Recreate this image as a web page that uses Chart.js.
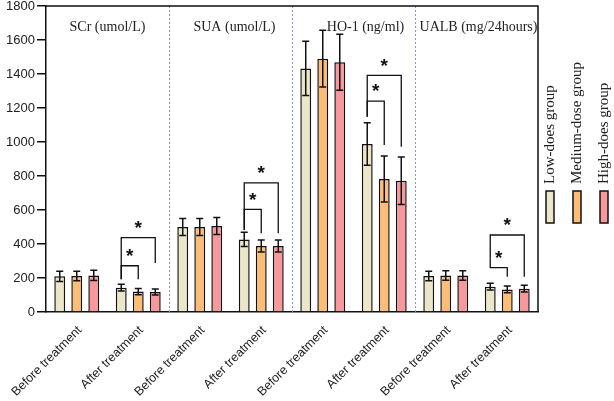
<!DOCTYPE html>
<html><head><meta charset="utf-8">
<script src="https://cdn.jsdelivr.net/npm/chart.js@4/dist/chart.umd.min.js"></script>
<style>html,body{margin:0;padding:0;background:#fff}#wrap{width:614px;height:401px}</style>
</head><body><div id="wrap"><canvas id="c" width="614" height="401"></canvas></div>
<script>
const categories = ['Before treatment','After treatment','Before treatment','After treatment','Before treatment','After treatment','Before treatment','After treatment'];
const sectionTitles = ['SCr (umol/L)','SUA (umol/L)','HO-1 (ng/ml)','UALB (mg/24hours)'];
const seriesNames = ['Low-does group','Medium-dose group','High-does group'];
const lowDose    = [210, 143, 500, 427, 1433, 988, 212, 149];
const mediumDose = [212, 120, 500, 388, 1490, 782, 215, 133];
const highDose   = [215, 118, 506, 388, 1469, 772, 215, 137];
const lowErr     = [30, 20, 50, 42, 160, 125, 28, 20];
const mediumErr  = [28, 18, 50, 35, 167, 135, 28, 20];
const highErr    = [30, 18, 50, 35, 165, 140, 28, 20];
const yTicks = [0, 200, 400, 600, 800, 1000, 1200, 1400, 1600, 1800];
// significance brackets: category, bar A, bar B, top value, leg A bottom value, leg B bottom value
const bracketCat   = [1, 1, 3, 3, 5, 5, 7, 7];
const bracketFrom  = [0, 0, 0, 0, 0, 0, 0, 0];
const bracketTo    = [1, 2, 1, 2, 1, 2, 1, 2];
const bracketTop   = [272, 437, 604, 760, 1241, 1392, 261, 453];
const bracketLegA  = [192, 192, 482, 482, 1149, 1149, 316, 316];
const bracketLegB  = [192, 288, 463, 463, 982, 972, 208, 208];

const colors = ['#ece6c8', '#fcbd76', '#f7989c'];
const values = [lowDose, mediumDose, highDose];
const errors = [lowErr, mediumErr, highErr];

const decor = {
  id: 'decor',
  beforeDatasetsDraw(chart) {
    const {ctx, chartArea: a, scales: {x}} = chart;
    ctx.save();
    ctx.strokeStyle = '#8a8cf2';
    ctx.lineWidth = 1;
    ctx.setLineDash([2, 2]);
    for (let k = 1; k < categories.length - 1; k += 2) {
      const px = Math.round((x.getPixelForValue(k) + x.getPixelForValue(k + 1)) / 2) + 0.5;
      ctx.beginPath(); ctx.moveTo(px, a.top); ctx.lineTo(px, a.bottom); ctx.stroke();
    }
    ctx.restore();
  },
  afterDatasetsDraw(chart) {
    const {ctx, chartArea: a, scales: {x, y}} = chart;
    ctx.save();
    // error bars
    ctx.strokeStyle = '#111';
    ctx.lineWidth = 1.5;
    for (let i = 0; i < 3; i++) {
      const meta = chart.getDatasetMeta(i);
      meta.data.forEach((el, j) => {
        const v = values[i][j], e = errors[i][j];
        const yt = y.getPixelForValue(v + e), yb = y.getPixelForValue(v - e);
        ctx.beginPath();
        ctx.moveTo(el.x, yt); ctx.lineTo(el.x, yb);
        ctx.moveTo(el.x - 3.5, yt); ctx.lineTo(el.x + 3.5, yt);
        ctx.moveTo(el.x - 3.5, yb); ctx.lineTo(el.x + 3.5, yb);
        ctx.stroke();
      });
    }
    // brackets
    ctx.lineWidth = 1.3;
    ctx.fillStyle = '#111';
    ctx.font = 'bold 19px "Liberation Sans"';
    ctx.textAlign = 'center';
    ctx.textBaseline = 'middle';
    for (let b = 0; b < bracketCat.length; b++) {
      const c = bracketCat[b];
      const xa = chart.getDatasetMeta(bracketFrom[b]).data[c].x;
      const xb = chart.getDatasetMeta(bracketTo[b]).data[c].x;
      const yt = y.getPixelForValue(bracketTop[b]);
      ctx.beginPath();
      ctx.moveTo(xa, y.getPixelForValue(bracketLegA[b]));
      ctx.lineTo(xa, yt); ctx.lineTo(xb, yt);
      ctx.lineTo(xb, y.getPixelForValue(bracketLegB[b]));
      ctx.stroke();
      ctx.fillText('*', (xa + xb) / 2, yt - 9);
    }
    // frame top/right
    ctx.lineWidth = 1.5;
    ctx.strokeStyle = '#111';
    ctx.beginPath();
    ctx.moveTo(a.left, a.top); ctx.lineTo(a.right, a.top); ctx.lineTo(a.right, a.bottom);
    ctx.stroke();
    // section titles
    ctx.font = '14px "Liberation Serif"';
    ctx.fillStyle = '#222';
    ctx.textBaseline = 'middle';
    const titleShift = [0, 4, 12, 2];
    for (let s = 0; s < sectionTitles.length; s++) {
      const x0 = s === 0 ? a.left : (x.getPixelForValue(2 * s - 1) + x.getPixelForValue(2 * s)) / 2;
      const x1 = s === sectionTitles.length - 1 ? a.right : (x.getPixelForValue(2 * s + 1) + x.getPixelForValue(2 * s + 2)) / 2;
      ctx.fillText(sectionTitles[s], (x0 + x1) / 2 + titleShift[s], a.top + 21);
    }
    // legend (rotated)
    for (let i = 0; i < 3; i++) {
      const cx = a.right + 12 + i * 27;
      ctx.fillStyle = colors[i];
      ctx.strokeStyle = '#111';
      ctx.lineWidth = 1.5;
      ctx.fillRect(cx - 4, a.bottom - 121, 8, 32);
      ctx.strokeRect(cx - 4, a.bottom - 121, 8, 32);
      ctx.save();
      ctx.translate(cx, a.bottom - 128);
      ctx.rotate(-Math.PI / 2);
      ctx.fillStyle = '#222';
      ctx.font = '15px "Liberation Serif"';
      ctx.textAlign = 'left';
      ctx.textBaseline = 'middle';
      ctx.fillText(seriesNames[i], 0, 0);
      ctx.restore();
    }
    ctx.restore();
  }
};

new Chart(document.getElementById('c'), {
  type: 'bar',
  data: {
    labels: categories,
    datasets: seriesNames.map((n, i) => ({
      label: n,
      data: values[i],
      backgroundColor: colors[i],
      borderColor: '#111',
      borderWidth: 1.5,
      categoryPercentage: 0.83,
      barPercentage: 0.64
    }))
  },
  options: {
    responsive: false,
    animation: false,
    devicePixelRatio: 1,
    layout: {padding: {top: 0, right: 76, left: 0, bottom: 0}},
    plugins: {legend: {display: false}, tooltip: {enabled: false}},
    scales: {
      x: {
        grid: {display: false},
        border: {display: true, color: '#111', width: 1.5},
        ticks: {minRotation: 45, maxRotation: 45, color: '#222', font: {family: 'Liberation Sans', size: 12.5}, padding: 3, labelOffset: 3},
        afterFit(s) { s.height = 89; }
      },
      y: {
        min: 0, max: 1800,
        afterBuildTicks(s) { s.ticks = yTicks.map(v => ({value: v})); },
        grid: {drawOnChartArea: false, drawTicks: true, tickLength: 9, color: '#111', lineWidth: 1.5},
        border: {display: true, color: '#111', width: 1.5},
        ticks: {color: '#222', font: {family: 'Liberation Sans', size: 13}, padding: 2, callback: v => String(v)},
        afterFit(s) { s.width = 46; s.paddingTop = 6; }
      }
    }
  },
  plugins: [decor]
});
</script></body></html>
